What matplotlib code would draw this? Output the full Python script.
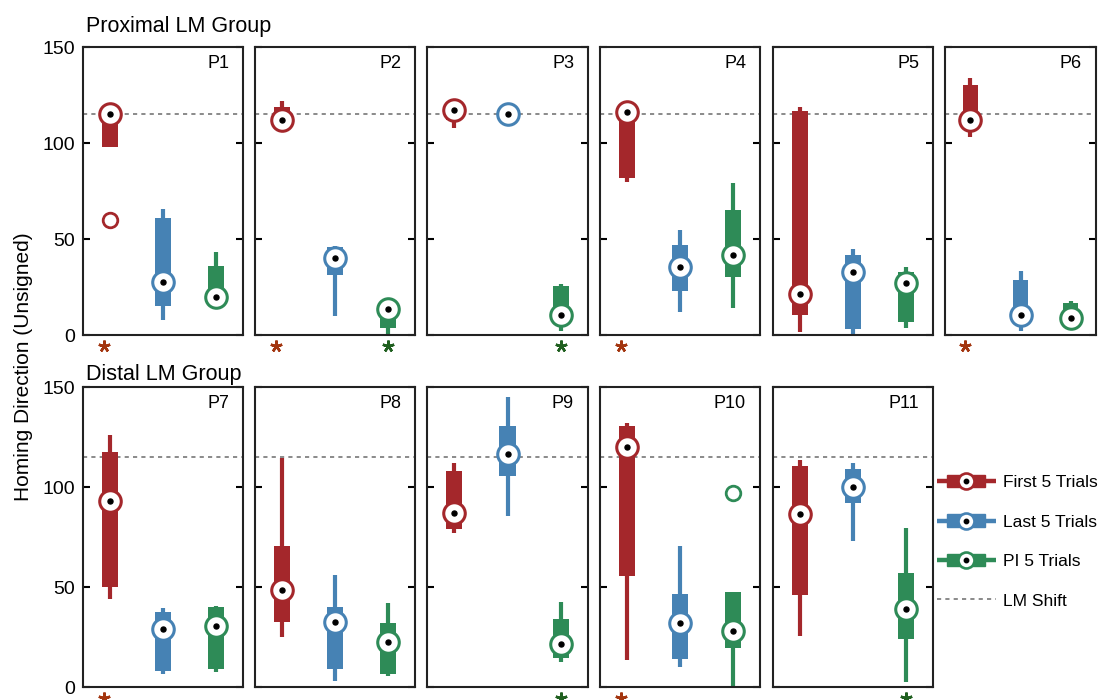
import matplotlib
matplotlib.use('Agg')
import matplotlib.pyplot as plt
import numpy as np
from matplotlib.lines import Line2D
from matplotlib.patches import Rectangle
from matplotlib.legend_handler import HandlerBase

plt.rcParams['font.family'] = ['Liberation Sans', 'DejaVu Sans']

panels = ['P1', 'P2', 'P3', 'P4', 'P5', 'P6', 'P7', 'P8', 'P9', 'P10', 'P11']

# per participant: whisker low, q1, median, q3, whisker high
first5 = np.array([
    [98, 98, 115, 116, 117],
    [108, 110, 112, 119, 122],
    [108, 112, 117, 119, 120],
    [79.5, 82, 116.3, 118, 119],
    [1.4, 10.4, 21.4, 116.8, 118.6],
    [103, 110, 112, 130.4, 133.6],
    [44, 50, 93, 117.5, 126],
    [25, 32.7, 48.5, 70.7, 114.3],
    [77, 79, 87, 108, 112],
    [13.5, 55.5, 120, 130.5, 132],
    [25.7, 46, 86.3, 110.5, 113.5],
])
last5 = np.array([
    [7.8, 15, 27.8, 60.8, 65.6],
    [10, 31.2, 40, 46, 46.5],
    [113, 114, 115, 116, 117],
    [12, 23, 35.6, 47, 54.7],
    [0, 3, 33, 41.7, 44.8],
    [2, 8, 10.5, 28.8, 33.3],
    [6.5, 8.2, 29, 37.7, 39.3],
    [3.2, 9, 32.3, 40.2, 56],
    [85.5, 105.7, 116.5, 130.5, 145.2],
    [10, 14, 32, 46.3, 70.7],
    [73, 92, 100, 109, 112],
])
pi5 = np.array([
    [16, 17, 20, 36, 43.4],
    [0, 3.8, 13.4, 15, 16],
    [2, 7, 10.4, 25.7, 26.4],
    [14, 30, 41.7, 65, 79],
    [3.5, 7, 27, 33, 35.2],
    [3, 5, 8.8, 16.9, 17.7],
    [7.3, 9, 30.5, 40, 40.7],
    [5.7, 6.5, 22.3, 32.2, 41.8],
    [12.7, 14.7, 21.3, 33.8, 42.7],
    [0, 19.3, 28, 47.3, 47.3],
    [2.3, 24, 38.8, 57.2, 79.7],
])

# outliers: (panel index, condition index, value)
outliers = [(0, 0, 60), (9, 2, 97.2)]

# significant conditions per panel (0 = first, 2 = PI)
stars = [[0], [0, 2], [2], [0], [], [0], [0], [], [2], [0], [2]]

lm_shift = 115
labels = ['First 5 Trials', 'Last 5 Trials', 'PI 5 Trials']
colors = ['#a4272b', '#4682b4', '#2e8b57']
star_colors = ['#a3350f', None, '#1f5f1f']

W, H = 1103, 700
fig = plt.figure(figsize=(W / 100, H / 100), dpi=100)

lefts = [83, 255, 427, 600, 773, 945]
widths = [160, 160, 161, 160, 160, 151]
tops = [47, 387]
heights = [288, 300]


def draw_box(ax, x, s, c):
    lo, q1, med, q3, hi = s
    ax.vlines(x, lo, hi, color=c, lw=3, zorder=2)
    ax.bar(x, q3 - q1, bottom=q1, width=0.3, color=c, zorder=3)
    ax.plot(x, med, 'o', ms=15.5, mfc='white', mec=c, mew=2.2, zorder=4, clip_on=False)
    ax.plot(x, med, 'o', ms=3.6, color='k', zorder=5, clip_on=False)


groups = [first5, last5, pi5]
for i, name in enumerate(panels):
    row = 0 if i < 6 else 1
    col = i if i < 6 else i - 6
    rect = [lefts[col] / W, 1 - (tops[row] + heights[row]) / H,
            widths[col] / W, heights[row] / H]
    ax = fig.add_axes(rect)
    shift = ax.axhline(lm_shift, color='#777777', lw=1.2, ls=(0, (2.5, 2.5)), zorder=1)
    for k in range(3):
        draw_box(ax, k + 1, groups[k][i], colors[k])
    for p, k, v in outliers:
        if p == i:
            ax.plot(k + 1, v, 'o', ms=10.5, mfc='white', mec=colors[k], mew=2, zorder=4)
    for k in stars[i]:
        dx = -0.1 if k == 0 else 0
        ax.plot(k + 1 + dx, -5.5, marker=(5, 2, 0), ms=8.5, mew=1.8,
                color=star_colors[k], clip_on=False)
    ax.set_xlim(0.5, 3.5)
    ax.set_ylim(0, 150)
    ax.set_xticks([])
    ax.set_yticks([0, 50, 100, 150])
    ax.tick_params(axis='y', direction='in', left=True, right=True, length=5,
                   width=1.5, labelsize=14, pad=6, labelleft=(col == 0))
    for sp in ax.spines.values():
        sp.set_linewidth(1.5)
        sp.set_color('#222222')
    ax.annotate(name, xy=(1, 1), xycoords='axes fraction', xytext=(-10, -6),
                textcoords='offset points', ha='right', va='top', fontsize=13)

fig.text(86 / W, 1 - 32 / H, 'Proximal LM Group', fontsize=15.5, va='baseline')
fig.text(86 / W, 1 - 380 / H, 'Distal LM Group', fontsize=15.5, va='baseline')
fig.text(24 / W, 0.476, 'Homing Direction (Unsigned)', rotation=90,
         fontsize=15, va='center', ha='center')


class BoxGlyph(HandlerBase):
    def create_artists(self, legend, orig_handle, xdescent, ydescent,
                       width, height, fontsize, trans):
        c = orig_handle.get_color()
        y = height / 2 - ydescent
        x0 = -xdescent
        line = Line2D([x0, x0 + width], [y, y], color=c, lw=3.2, solid_capstyle='butt')
        box = Rectangle((x0 + 0.17 * width, y - 4.5), 0.64 * width, 9, color=c)
        ring = Line2D([x0 + 0.49 * width], [y], marker='o', ms=11.5,
                      mfc='white', mec=c, mew=1.9)
        dot = Line2D([x0 + 0.49 * width], [y], marker='o', ms=3.2, color='k')
        for a in (line, box, ring, dot):
            a.set_transform(trans)
        return [line, box, ring, dot]


box_handles = [Line2D([], [], color=c) for c in colors]
handler = BoxGlyph()
fig.legend(box_handles + [shift], labels + ['LM Shift'],
           handler_map={h: handler for h in box_handles},
           loc='upper left', bbox_to_anchor=(937 / W, 1 - 475 / H),
           frameon=False, fontsize=12.5, handlelength=3.4, handletextpad=0.4,
           labelspacing=1.4, borderpad=0, borderaxespad=0)

fig.savefig('out.png', dpi=100)
